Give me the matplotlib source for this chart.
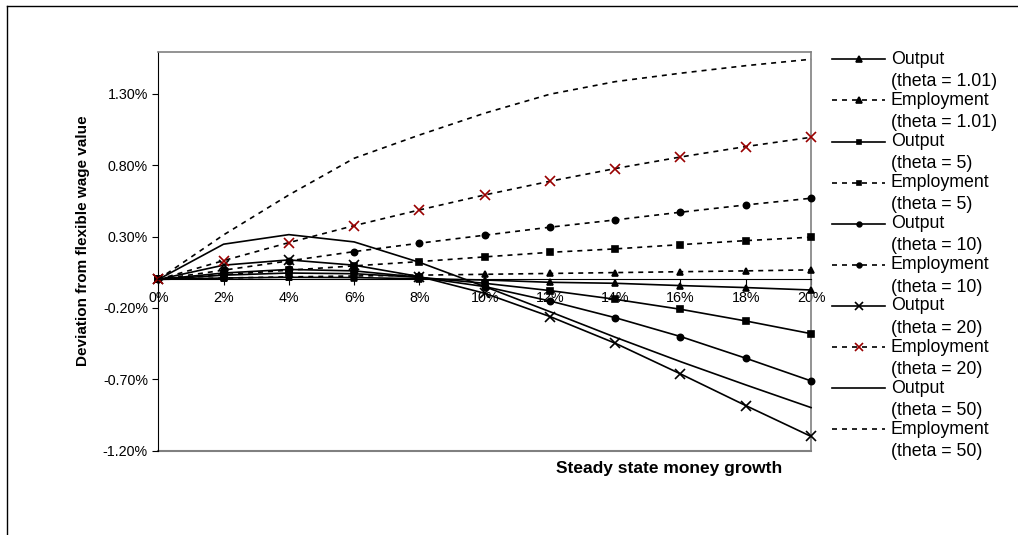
import matplotlib
matplotlib.use("Agg")
import matplotlib.pyplot as plt
from matplotlib.lines import Line2D

plt.rcParams['font.family'] = ['Liberation Sans', 'DejaVu Sans']

# money growth (%) and deviations (%)
growth = [0, 2, 4, 6, 8, 10, 12, 14, 16, 18, 20]
out_101 = [0, 0.010, 0.015, 0.013, 0.005, -0.004, -0.020, -0.027, -0.043, -0.057, -0.074]
emp_101 = [0, 0.010, 0.018, 0.024, 0.030, 0.036, 0.042, 0.048, 0.054, 0.060, 0.067]
out_5 = [0, 0.030, 0.045, 0.040, 0.015, -0.027, -0.078, -0.139, -0.209, -0.291, -0.380]
emp_5 = [0, 0.033, 0.065, 0.095, 0.125, 0.158, 0.190, 0.214, 0.244, 0.272, 0.296]
out_10 = [0, 0.045, 0.070, 0.060, 0.015, -0.050, -0.151, -0.268, -0.400, -0.552, -0.711]
emp_10 = [0, 0.065, 0.130, 0.195, 0.254, 0.310, 0.366, 0.417, 0.471, 0.522, 0.569]
out_20 = [0, 0.100, 0.137, 0.100, 0.020, -0.097, -0.260, -0.447, -0.662, -0.884, -1.100]
emp_20 = [0, 0.132, 0.258, 0.377, 0.487, 0.592, 0.688, 0.777, 0.858, 0.931, 0.996]
out_50 = [0, 0.247, 0.314, 0.263, 0.120, -0.050, -0.226, -0.405, -0.576, -0.739, -0.898]
emp_50 = [0, 0.312, 0.592, 0.849, 1.012, 1.165, 1.298, 1.386, 1.445, 1.498, 1.543]

yticks = [-1.2, -0.7, -0.2, 0.3, 0.8, 1.3]
red = '#990000'
dots = (3, 3)

series = [
    ("Output\n(theta = 1.01)", out_101, '-', '^', 'k', 5),
    ("Employment\n(theta = 1.01)", emp_101, ':', '^', 'k', 5),
    ("Output\n(theta = 5)", out_5, '-', 's', 'k', 4.5),
    ("Employment\n(theta = 5)", emp_5, ':', 's', 'k', 4.5),
    ("Output\n(theta = 10)", out_10, '-', 'o', 'k', 4.5),
    ("Employment\n(theta = 10)", emp_10, ':', 'o', 'k', 4.5),
    ("Output\n(theta = 20)", out_20, '-', 'x', 'k', 7),
    ("Employment\n(theta = 20)", emp_20, ':', 'x', red, 7),
    ("Output\n(theta = 50)", out_50, '-', None, 'k', 0),
    ("Employment\n(theta = 50)", emp_50, ':', None, 'k', 0),
]

fig = plt.figure(figsize=(10.18, 5.35), dpi=100)
ax = fig.add_axes([0.1555, 0.1576, 0.6412, 0.7458])

for label, vals, ls, mk, mc, ms in series:
    line, = ax.plot(growth, vals, color='k', lw=1.2, marker=mk, markersize=ms,
                    markerfacecolor=mc, markeredgecolor=mc, markeredgewidth=1.2,
                    clip_on=False, zorder=3)
    if ls == ':':
        line.set_dashes(dots)

ax.set_xlim(0, 20)
ax.set_ylim(-1.2, 1.596)
ax.set_xticks(growth)
ax.set_xticklabels([f"{g}%" for g in growth])
ax.set_yticks(yticks)
ax.set_yticklabels([f"{v:.2f}%" for v in yticks])

ax.spines['bottom'].set_position(('data', 0))
ax.spines['bottom'].set_color('k')
ax.spines['left'].set_color('k')
for s in ('top', 'right'):
    ax.spines[s].set_color('#808080')
    ax.spines[s].set_linewidth(1.2)
ax.axhline(-1.2, color='#808080', lw=1.5, clip_on=False, zorder=1)
ax.tick_params(axis='both', labelsize=10.3, length=4, width=0.8, direction='out')
ax.tick_params(axis='x', pad=4.5)
ax.tick_params(axis='y', pad=3.5)

fig.text(83 / 1018, 1 - 241 / 535, "Deviation from flexible wage value",
         rotation=90, ha='center', va='center', fontsize=11, fontweight='bold')
fig.text(669 / 1018, 1 - 468 / 535, "Steady state money growth",
         ha='center', va='center', fontsize=12.5, fontweight='bold')

# legend drawn by hand so the key sits on the first text line
W, H = 1018.0, 535.0
for i, (label, vals, ls, mk, mc, ms) in enumerate(series):
    y = 59.3 + 41.1 * i
    key = Line2D([832 / W, 885 / W], [1 - y / H] * 2, transform=fig.transFigure,
                 color='k', lw=1.2)
    if ls == ':':
        key.set_dashes(dots)
    fig.add_artist(key)
    if mk:
        fig.add_artist(Line2D([858.5 / W], [1 - y / H], transform=fig.transFigure,
                              marker=mk, markersize=ms * 0.75, color=mc,
                              markeredgewidth=1.2, linestyle='none'))
    first, second = label.split("\n")
    fig.text(891 / W, 1 - y / H, first, ha='left', va='center', fontsize=12.8)
    fig.text(891 / W, 1 - (y + 22.3) / H, second, ha='left', va='center', fontsize=12.8)

# outer chart frame (only top and left edges fall inside the picture)
fig.add_artist(Line2D([7 / W, 7 / W], [0, 1 - 6 / H], transform=fig.transFigure,
                      color='k', lw=1))
fig.add_artist(Line2D([7 / W, 1], [1 - 6 / H, 1 - 6 / H], transform=fig.transFigure,
                      color='k', lw=1))

fig.savefig("out.png", dpi=100)
